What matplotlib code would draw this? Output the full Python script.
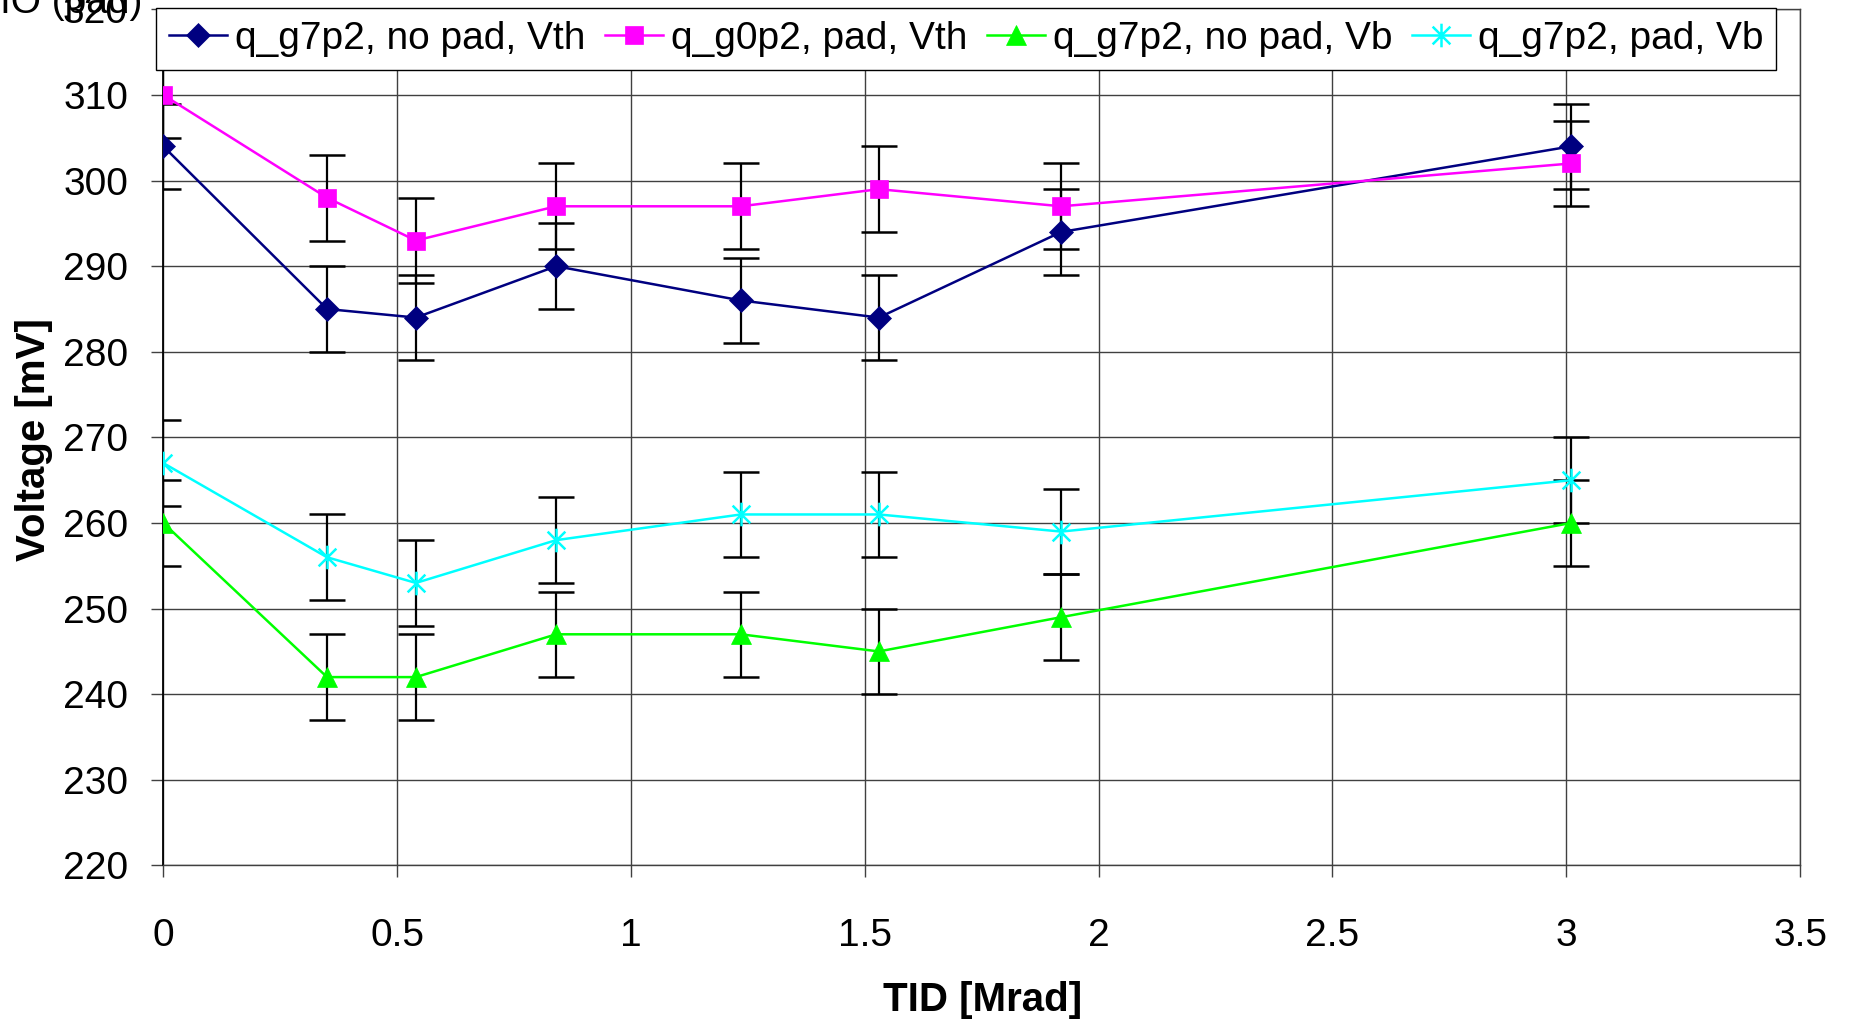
import matplotlib
matplotlib.use('Agg')
import matplotlib.pyplot as plt
from matplotlib.path import Path

# dose points [Mrad] and measured voltages [mV]
tid = [0, 0.35, 0.54, 0.84, 1.235, 1.53, 1.92, 3.01]
vth_nopad = [304, 285, 284, 290, 286, 284, 294, 304]
vth_pad = [310, 298, 293, 297, 297, 299, 297, 302]
vb_nopad = [260, 242, 242, 247, 247, 245, 249, 260]
vb_pad = [267, 256, 253, 258, 261, 261, 259, 265]
err = [5, 5, 5, 5, 5, 5, 5, 5]
labels = ['q_g7p2, no pad, Vth', 'q_g0p2, pad, Vth', 'q_g7p2, no pad, Vb', 'q_g7p2, pad, Vb']
xticks = [0, 0.5, 1, 1.5, 2, 2.5, 3, 3.5]
yticks = [220, 230, 240, 250, 260, 270, 280, 290, 300, 310, 320]

plt.rcParams['font.family'] = ['Liberation Sans', 'DejaVu Sans']

# excel-like star: vertical bar + X
star = Path([(0, -1), (0, 1), (-0.75, -0.75), (0.75, 0.75), (-0.75, 0.75), (0.75, -0.75)],
            [Path.MOVETO, Path.LINETO] * 3)

fig = plt.figure(figsize=(18.5, 10.22), dpi=100)
ax = fig.add_axes([0.0883, 0.1532, 0.8847, 0.8376])

series = [
    (vth_nopad, '#000080', 'D', 12),
    (vth_pad, '#FF00FF', 's', 13),
    (vb_nopad, '#00FF00', '^', 15),
    (vb_pad, '#00FFFF', star, 17),
]
for i in range(len(series)):
    y, c, m, ms = series[i]
    ax.errorbar(tid, y, yerr=err, fmt='none', ecolor='black', elinewidth=1.6,
                capsize=13, capthick=1.8, zorder=2)
    if m is star:
        ax.plot(tid, y, color=c, marker=m, markersize=ms, markerfacecolor='none',
                markeredgecolor=c, markeredgewidth=1.8, lw=1.8, label=labels[i], zorder=3)
    else:
        ax.plot(tid, y, color=c, marker=m, markersize=ms, markerfacecolor=c,
                markeredgecolor=c, markeredgewidth=0.5, lw=1.8, label=labels[i], zorder=3)

ax.set_xlim(0, 3.5)
ax.set_ylim(220, 320)
ax.set_xticks(xticks)
ax.set_xticklabels(['0', '0.5', '1', '1.5', '2', '2.5', '3', '3.5'])
ax.set_yticks(yticks)
ax.tick_params(axis='both', labelsize=28, direction='out', length=8.5, width=1, color='#404040')
ax.tick_params(axis='x', pad=29)
ax.tick_params(axis='y', pad=17)
ax.grid(True, color='#404040', lw=1.0)
ax.set_axisbelow(True)
for s in ['top', 'right', 'bottom']:
    ax.spines[s].set_color('#404040')
    ax.spines[s].set_linewidth(1.0)
ax.spines['left'].set_color('black')
ax.spines['left'].set_linewidth(1.3)

ax.legend(loc='upper left', bbox_to_anchor=(156 / 1850, 1 - 8 / 1022),
          bbox_transform=fig.transFigure, ncol=4, fontsize=28, frameon=True,
          fancybox=False, edgecolor='black', framealpha=1, handlelength=1.5,
          handletextpad=0.2, columnspacing=0.5, borderpad=0.33, borderaxespad=0)

fig.text(0.0185, 0.5695, 'Voltage [mV]', rotation=90, fontweight='bold', fontsize=29,
         ha='center', va='center')
fig.text(0.531, 0.022, 'TID [Mrad]', fontweight='bold', fontsize=29, ha='center', va='center')
fig.text(0.0, 1 - 13 / 1022, 'IO (pad)', fontsize=28, ha='left', va='baseline')

fig.savefig('out.png', dpi=100)
